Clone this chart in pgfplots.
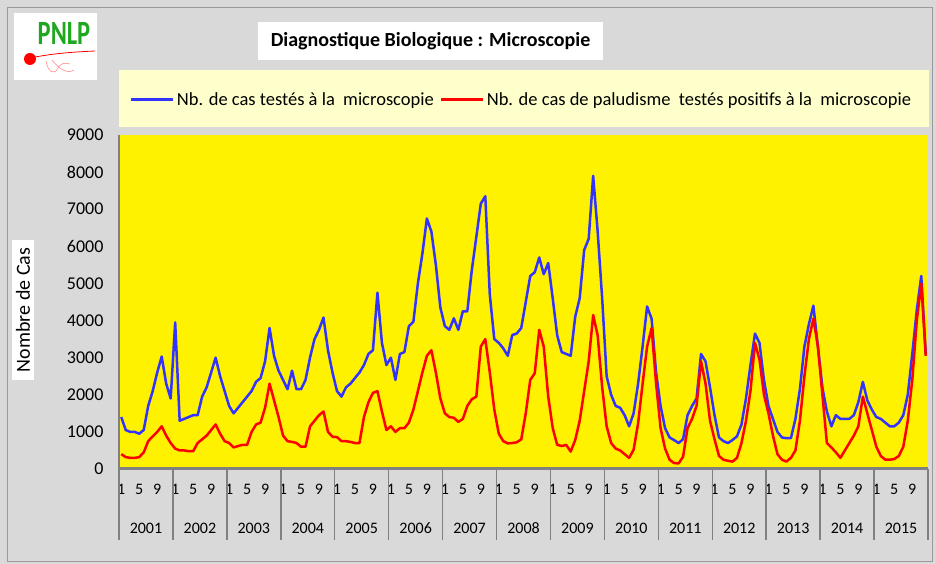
\documentclass[border=0pt]{standalone}
\usepackage{pgfplots}
\usepackage{pgfplotstable}
\pgfplotsset{compat=1.18}
\usepackage{fontspec}
\setmainfont{Carlito}
\definecolor{bgc}{HTML}{D9D9D9}
\definecolor{leg}{HTML}{FFFFCC}
\definecolor{axg}{HTML}{808080}
\definecolor{bl}{HTML}{3333FF}
\definecolor{logogreen}{HTML}{1FA81F}
\pgfplotstableread{
m tested positive
0 1400 400
1 1050 320
2 1000 300
3 1000 300
4 950 320
5 1050 450
6 1700 750
7 2100 880
8 2600 1000
9 3030 1150
10 2300 900
11 1900 700
12 3950 550
13 1300 500
14 1350 500
15 1400 480
16 1450 480
17 1450 700
18 1950 800
19 2200 900
20 2600 1050
21 3000 1200
22 2500 950
23 2100 750
24 1700 700
25 1500 580
26 1650 620
27 1800 650
28 1950 650
29 2100 1000
30 2350 1200
31 2450 1250
32 2900 1650
33 3800 2300
34 3050 1850
35 2650 1400
36 2400 900
37 2150 750
38 2650 730
39 2150 700
40 2150 600
41 2400 600
42 3000 1150
43 3500 1300
44 3750 1450
45 4080 1550
46 3200 1000
47 2600 870
48 2100 860
49 1950 750
50 2200 750
51 2300 730
52 2450 700
53 2600 700
54 2800 1400
55 3100 1800
56 3200 2050
57 4750 2100
58 3400 1550
59 2800 1050
60 3000 1150
61 2400 1000
62 3100 1100
63 3150 1100
64 3850 1250
65 3970 1600
66 5000 2100
67 5800 2600
68 6750 3050
69 6400 3200
70 5500 2600
71 4350 1900
72 3850 1500
73 3750 1400
74 4060 1380
75 3750 1270
76 4250 1350
77 4250 1700
78 5360 1880
79 6250 1950
80 7150 3300
81 7350 3500
82 4700 2600
83 3500 1600
84 3400 950
85 3250 750
86 3050 690
87 3610 700
88 3650 720
89 3800 800
90 4500 1500
91 5200 2400
92 5300 2580
93 5700 3750
94 5250 3300
95 5550 1950
96 4600 1100
97 3600 650
98 3150 620
99 3100 650
100 3050 470
101 4100 780
102 4600 1300
103 5900 2100
104 6200 2900
105 7900 4150
106 6400 3600
107 4600 2200
108 2500 1150
109 2000 700
110 1700 550
111 1650 500
112 1450 400
113 1150 300
114 1500 520
115 2300 1230
116 3300 2300
117 4380 3300
118 4050 3800
119 2600 2300
120 1700 1100
121 1100 550
122 850 250
123 780 160
124 700 150
125 800 330
126 1450 1100
127 1700 1350
128 1900 1700
129 3100 2900
130 2900 2300
131 2200 1300
132 1450 800
133 850 350
134 750 250
135 700 220
136 780 200
137 880 300
138 1200 700
139 1900 1300
140 2800 2100
141 3650 3400
142 3400 2950
143 2400 2000
144 1700 1500
145 1350 900
146 1000 400
147 850 250
148 830 200
149 830 300
150 1350 500
151 2150 1300
152 3300 2500
153 3900 3500
154 4400 4050
155 3300 3300
156 2200 2000
157 1550 700
158 1150 580
159 1450 450
160 1350 300
161 1350 500
162 1350 700
163 1450 900
164 1800 1150
165 2350 1950
166 1850 1500
167 1600 1050
168 1400 600
169 1350 350
170 1250 250
171 1150 250
172 1150 270
173 1250 350
174 1450 600
175 2000 1300
176 3100 2400
177 4280 4000
178 5200 5000
179 3100 3050
}\data

\begin{document}
\begin{tikzpicture}
\fill[bgc] (0,0) rectangle (936pt,564pt);
\draw[axg!80, line width=1pt] (7.5pt,2pt) rectangle (932.5pt,556.5pt);
% logo
\fill[white] (14pt,484pt) rectangle (97pt,551pt);
\node[font=\bfseries\fontsize{34}{34}\selectfont, text=logogreen, xscale=0.72, draw=none] at (64pt,531pt) {PNLP};
\draw[red, line width=0.8pt] (30pt,506pt) .. controls (55pt,511pt) and (75pt,512pt) .. (95pt,513pt);
\fill[red] (30pt,505pt) circle (6pt);
\draw[red!45, line width=0.6pt] (46pt,503pt) .. controls (48pt,492pt) and (54pt,488pt) .. (58pt,496pt) .. controls (60pt,500pt) and (64pt,502pt) .. (70pt,500pt);
\draw[red!45, line width=0.6pt] (52pt,504pt) .. controls (60pt,494pt) and (68pt,490pt) .. (74pt,494pt);
% title
\node[fill=white, minimum width=345pt, minimum height=38pt, font=\bfseries\fontsize{20}{24}\selectfont] at (430.5pt,523pt) {Diagnostique Biologique : Microscopie};
% legend box
\fill[leg] (119pt,437pt) rectangle (929pt,494pt);
% y label
\node[fill=white, rotate=90, font=\fontsize{20}{24}\selectfont, inner xsep=8pt, inner ysep=4pt] at (23pt,254pt) {Nombre de Cas};
\begin{axis}[
  at={(119pt,95pt)}, anchor=south west, scale only axis,
  width=809pt, height=334pt,
  xmin=0, xmax=180, ymin=0, ymax=9000,
  axis background/.style={fill=yellow},
  axis x line*=bottom, axis y line*=left,
  x axis line style={-, draw=axg, line width=3pt},
  y axis line style={-, draw=axg, line width=1.5pt},
  ytick={0,1000,...,9000},
  xtick={0.5,4.5,...,178.5},
  xticklabels={1,5,9,1,5,9,1,5,9,1,5,9,1,5,9,1,5,9,1,5,9,1,5,9,1,5,9,1,5,9,1,5,9,1,5,9,1,5,9,1,5,9,1,5,9},
  major tick length=0pt,
  scaled y ticks=false,
  /pgf/number format/1000 sep={},
  /pgf/number format/assume math mode=true,
  yticklabel style={font=\fontsize{18}{21}\selectfont, xshift=-12pt},
  xticklabel style={font=\fontsize{16}{19}\selectfont, yshift=-12pt},
  legend style={at={(0.4975,1.105)}, anchor=center, draw=none, fill=none,
    legend columns=2, font=\fontsize{18.5}{22}\selectfont,
    /tikz/every even column/.append style={column sep=4pt}},
  legend image code/.code={\draw[#1, line width=3pt] (0pt,0pt) -- (42pt,0pt);},
]
\addplot[bl, line width=2.5pt, line join=round] table[x expr=\thisrow{m}+0.5, y=tested] {\data};
\addlegendentry{Nb. de cas testés à la\ \ microscopie}
\addplot[red, line width=2.5pt, line join=round] table[x expr=\thisrow{m}+0.5, y=positive] {\data};
\addlegendentry{Nb. de cas de paludisme\ \ testés positifs à la\ \ microscopie}
\end{axis}
\foreach \k in {0,...,15} \draw[axg, line width=1.5pt] ({119pt+53.933pt*\k},95pt) -- ({119pt+53.933pt*\k},24pt);
\foreach \y [count=\k from 0] in {2001,...,2015} \node[font=\fontsize{16}{19}\selectfont] at ({119pt+53.933pt*(\k+0.5)},36pt) {\y};
\end{tikzpicture}
\end{document}
